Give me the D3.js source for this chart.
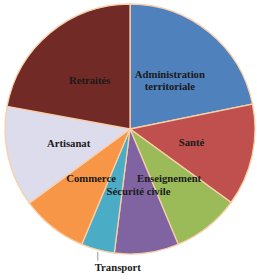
<!DOCTYPE html>
<html>
<head>
<meta charset="utf-8">
<script src="https://cdn.jsdelivr.net/npm/d3@7"></script>
<style>
  body { margin: 0; background: #fff; }
</style>
</head>
<body>
<div id="chart"></div>
<script>
// slices, clockwise from 12 o'clock
const labels = ["Administration territoriale", "Santé", "Enseignement", "Sécurité civile",
                "Transport", "Commerce", "Artisanat", "Retraités"];
const values = [21.8, 13.2, 8.7, 8.3, 4.3, 8.6, 13.0, 22.1];
const sliceColors = ["#4f81bd", "#c0504d", "#9bbb59", "#8064a2",
                     "#4bacc6", "#f79646", "#dddcec", "#722a27"];

const width = 257, height = 280,
    cx = 130, cy = 129,
    radius = 125,
    labelRadius = 63;

const svg = d3.select("#chart")
    .append("svg")
    .attr("width", width)
    .attr("height", height);

const g = svg.append("g")
    .attr("transform", "translate(" + cx + "," + cy + ")");

const data = labels.map((l, i) => ({label: l, value: values[i]}));

const pie = d3.pie()
    .sort(null)
    .value(d => d.value);

const arcs = pie(data);

const arc = d3.arc()
    .innerRadius(0)
    .outerRadius(radius);

const labelArc = d3.arc()
    .innerRadius(labelRadius)
    .outerRadius(labelRadius);

const color = d3.scaleOrdinal()
    .domain(labels)
    .range(sliceColors);

g.selectAll("path")
    .data(arcs)
    .enter()
    .append("path")
    .attr("d", arc)
    .attr("fill", d => color(d.data.label))
    .attr("stroke", "#f9cfa8")
    .attr("stroke-width", 1.3);

// inside labels
const inside = arcs.filter(d => d.data.label !== "Transport");

const txt = g.selectAll("text.inside")
    .data(inside)
    .enter()
    .append("text")
    .attr("class", "inside")
    .attr("transform", d => "translate(" + labelArc.centroid(d) + ")")
    .attr("text-anchor", "middle")
    .style("font-family", "'Liberation Serif', serif")
    .style("font-weight", "bold")
    .style("font-size", "10.7px")
    .attr("fill", "#1a1a1a");

txt.each(function(d) {
    const words = d.data.label === "Administration territoriale"
        ? ["Administration", "territoriale"] : [d.data.label];
    const t = d3.select(this);
    words.forEach((w, i) => {
        t.append("tspan")
            .attr("x", 0)
            .attr("dy", i === 0 ? (words.length > 1 ? "-0.2em" : "0.35em") : "1.15em")
            .text(w);
    });
});

// Transport: outside label with a short leader
const tr = arcs.find(d => d.data.label === "Transport");
const mid = (tr.startAngle + tr.endAngle) / 2;
const px = radius * Math.sin(mid), py = -radius * Math.cos(mid);

g.append("line")
    .attr("x1", px).attr("y1", py + 2)
    .attr("x2", px).attr("y2", py + 11)
    .attr("stroke", "#999")
    .attr("stroke-width", 1);

g.append("text")
    .attr("x", px - 3)
    .attr("y", py + 21)
    .style("font-family", "'Liberation Serif', serif")
    .style("font-weight", "bold")
    .style("font-size", "10.7px")
    .attr("fill", "#1a1a1a")
    .text("Transport");
</script>
</body>
</html>
